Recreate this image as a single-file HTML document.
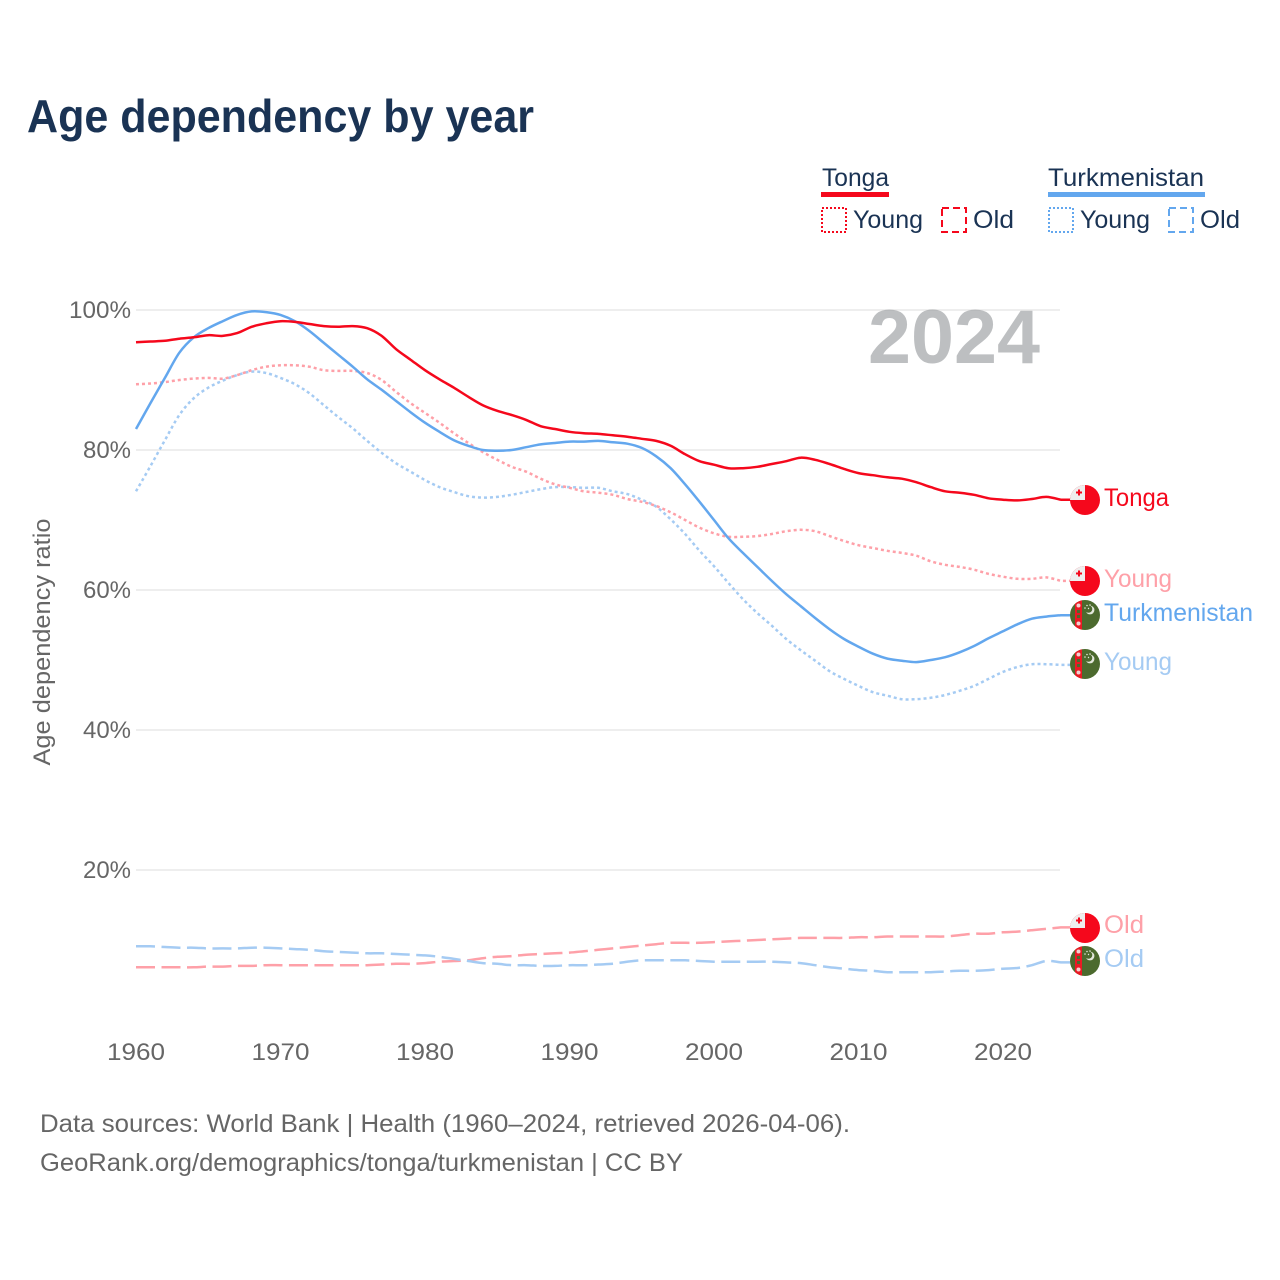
<!DOCTYPE html>
<html>
<head>
<meta charset="utf-8">
<title>Age dependency by year</title>
<style>
html,body{margin:0;padding:0;background:#fff;}
svg{display:block;}
text{font-family:"Liberation Sans",sans-serif;}
.tick{font-size:24px;fill:#666;}
.leg{font-size:25px;fill:#1a3354;}
.end{font-size:25px;}
.foot{font-size:25px;fill:#666;}
</style>
</head>
<body>
<svg id="chart" xmlns="http://www.w3.org/2000/svg" width="1280" height="1280" viewBox="0 0 1280 1280">
<defs>
<clipPath id="flag-clip"><circle cx="0" cy="0" r="15"/></clipPath>
<g id="flag-tonga" clip-path="url(#flag-clip)">
<rect x="-15" y="-15" width="30" height="30" fill="#f5081c"/>
<rect x="-15" y="-15" width="15" height="15" fill="#eeeeee"/>
<rect x="-9" y="-8.5" width="6" height="2" fill="#f5081c"/>
<rect x="-7" y="-10.5" width="2" height="6" fill="#f5081c"/>
</g>
<g id="flag-turkmenistan" clip-path="url(#flag-clip)">
<rect x="-15" y="-15" width="30" height="30" fill="#4c6a2e"/>
<rect x="-10" y="-15" width="7" height="30" fill="#ea1a24"/>
<circle cx="-6.5" cy="-9.5" r="2" fill="#f3d0d0"/>
<rect x="-8" y="-5" width="3" height="3" fill="#4c6a2e"/>
<rect x="-8" y="0" width="3" height="3" fill="#4c6a2e"/>
<circle cx="-6.5" cy="8.5" r="2" fill="#f3d0d0"/>
<circle cx="5" cy="-5" r="4.4" fill="#e4e8dc"/>
<circle cx="3.5" cy="-6" r="3.8" fill="#4c6a2e"/>
<circle cx="0" cy="-7" r="0.8" fill="#e4e8dc"/>
<circle cx="2" cy="-9.5" r="0.8" fill="#e4e8dc"/>
<circle cx="5" cy="-10" r="0.8" fill="#e4e8dc"/>
<circle cx="3.5" cy="-6.5" r="0.7" fill="#e4e8dc"/>
</g>
</defs>

<text x="27" y="132" font-size="46" font-weight="700" fill="#1a3354" textLength="507" lengthAdjust="spacingAndGlyphs">Age dependency by year</text>

<g>
<text class="leg" x="822" y="186" textLength="67" lengthAdjust="spacingAndGlyphs">Tonga</text>
<rect x="821" y="192" width="68" height="5" fill="#f5081c"/>
<rect x="822" y="208" width="24" height="24" fill="none" stroke="#f5081c" stroke-width="2" stroke-dasharray="2 2"/>
<text class="leg" x="853" y="228" textLength="70" lengthAdjust="spacingAndGlyphs">Young</text>
<rect x="942" y="208" width="24" height="24" fill="none" stroke="#f5081c" stroke-width="2" stroke-dasharray="7 4"/>
<text class="leg" x="973" y="228" textLength="41" lengthAdjust="spacingAndGlyphs">Old</text>
<text class="leg" x="1048" y="186" textLength="156" lengthAdjust="spacingAndGlyphs">Turkmenistan</text>
<rect x="1048" y="192" width="157" height="5" fill="#63a7ee"/>
<rect x="1049" y="208" width="24" height="24" fill="none" stroke="#63a7ee" stroke-width="2" stroke-dasharray="2 2"/>
<text class="leg" x="1080" y="228" textLength="70" lengthAdjust="spacingAndGlyphs">Young</text>
<rect x="1169" y="208" width="24" height="24" fill="none" stroke="#63a7ee" stroke-width="2" stroke-dasharray="7 4"/>
<text class="leg" x="1200" y="228" textLength="40" lengthAdjust="spacingAndGlyphs">Old</text>
</g>

<g id="grid"></g>
<g id="yticks"></g>
<g id="xticks"></g>

<text transform="translate(50,642) rotate(-90)" text-anchor="middle" font-size="24" fill="#666" textLength="247" lengthAdjust="spacingAndGlyphs">Age dependency ratio</text>

<text x="868" y="363" font-size="76" font-weight="700" fill="#999ca0" fill-opacity="0.65" textLength="172" lengthAdjust="spacingAndGlyphs">2024</text>

<g id="series"></g>

<g>
<use href="#flag-tonga" transform="translate(1085,500)"/>
<use href="#flag-tonga" transform="translate(1085,581)"/>
<use href="#flag-turkmenistan" transform="translate(1085,615)"/>
<use href="#flag-turkmenistan" transform="translate(1085,664)"/>
<use href="#flag-tonga" transform="translate(1085,928)"/>
<use href="#flag-turkmenistan" transform="translate(1085,961)"/>
<text class="end" x="1104" y="506" fill="#f5081c" textLength="65" lengthAdjust="spacingAndGlyphs">Tonga</text>
<text class="end" x="1104" y="587" fill="#fea0a8" textLength="68" lengthAdjust="spacingAndGlyphs">Young</text>
<text class="end" x="1104" y="621" fill="#63a7ee" textLength="149" lengthAdjust="spacingAndGlyphs">Turkmenistan</text>
<text class="end" x="1104" y="670" fill="#a5cbf3" textLength="68" lengthAdjust="spacingAndGlyphs">Young</text>
<text class="end" x="1104" y="933" fill="#fea0a8" textLength="40" lengthAdjust="spacingAndGlyphs">Old</text>
<text class="end" x="1104" y="967" fill="#a5cbf3" textLength="40" lengthAdjust="spacingAndGlyphs">Old</text>
</g>

<text class="foot" x="40" y="1132" textLength="810" lengthAdjust="spacingAndGlyphs">Data sources: World Bank | Health (1960–2024, retrieved 2026-04-06).</text>
<text class="foot" x="40" y="1171" textLength="643" lengthAdjust="spacingAndGlyphs">GeoRank.org/demographics/tonga/turkmenistan | CC BY</text>
</svg>

<script>
const startYear = 1960;
const yTickValues = [20, 40, 60, 80, 100];
const xTickValues = [1960, 1970, 1980, 1990, 2000, 2010, 2020];

const tongaTotal = [
95.4,95.5,95.6,95.9,96.1,96.4,96.3,96.7,97.6,98.1,
98.4,98.3,98.0,97.7,97.6,97.7,97.4,96.3,94.4,92.9,
91.4,90.1,88.9,87.6,86.4,85.6,85.0,84.3,83.4,83.0,
82.6,82.4,82.3,82.1,81.9,81.6,81.3,80.6,79.4,78.4,
77.9,77.4,77.4,77.6,78.0,78.4,78.9,78.6,78.0,77.3,
76.7,76.4,76.1,75.9,75.4,74.7,74.1,73.9,73.6,73.1,
72.9,72.8,73.0,73.3,72.9];
const tongaYoung = [
89.4,89.5,89.7,90.0,90.2,90.3,90.2,90.7,91.4,91.9,
92.1,92.1,91.9,91.4,91.3,91.3,91.0,90.0,88.3,86.7,
85.3,83.9,82.4,81.0,79.7,78.6,77.6,76.9,75.9,75.1,
74.6,74.1,73.9,73.6,73.0,72.6,72.0,71.1,70.0,68.9,
68.1,67.6,67.6,67.7,68.0,68.4,68.6,68.4,67.7,67.0,
66.4,66.0,65.6,65.3,64.9,64.1,63.6,63.3,62.9,62.3,
61.9,61.6,61.6,61.8,61.3];
const tongaOld = [
6.1,6.1,6.1,6.1,6.1,6.2,6.2,6.3,6.3,6.4,
6.4,6.4,6.4,6.4,6.4,6.4,6.4,6.5,6.6,6.6,
6.7,6.9,7.0,7.1,7.4,7.6,7.7,7.9,8.0,8.1,
8.2,8.4,8.6,8.8,9.0,9.2,9.4,9.6,9.6,9.6,
9.7,9.8,9.9,10.0,10.1,10.2,10.3,10.3,10.3,10.3,
10.4,10.4,10.5,10.5,10.5,10.5,10.5,10.7,10.9,10.9,
11.1,11.2,11.4,11.6,11.8];
const turkmenistanTotal = [
83.0,86.7,90.3,93.9,96.1,97.4,98.4,99.3,99.8,99.7,
99.3,98.4,97.0,95.3,93.6,91.9,90.1,88.6,87.0,85.4,
83.9,82.6,81.4,80.6,80.0,79.9,80.0,80.4,80.8,81.0,
81.2,81.2,81.3,81.1,80.9,80.3,79.1,77.4,75.1,72.6,
70.0,67.4,65.3,63.3,61.3,59.4,57.7,56.0,54.4,53.0,
51.9,50.9,50.2,49.9,49.7,50.0,50.4,51.1,52.0,53.1,
54.1,55.1,55.9,56.2,56.4];
const turkmenistanYoung = [
74.1,77.7,81.4,85.0,87.4,88.9,89.9,90.7,91.2,91.0,
90.3,89.4,88.1,86.4,84.7,83.1,81.3,79.6,78.1,76.9,
75.7,74.7,74.0,73.4,73.2,73.3,73.6,74.0,74.4,74.7,
74.7,74.6,74.6,74.1,73.7,72.9,71.9,70.1,68.0,65.6,
63.4,61.0,58.7,56.7,54.9,53.0,51.4,49.9,48.4,47.3,
46.3,45.4,44.9,44.4,44.4,44.6,45.0,45.6,46.3,47.3,
48.3,49.0,49.4,49.4,49.3];
const turkmenistanOld = [
9.1,9.1,9.0,8.9,8.9,8.8,8.8,8.8,8.9,8.9,
8.8,8.7,8.6,8.4,8.3,8.2,8.1,8.1,8.0,7.9,
7.8,7.6,7.3,7.0,6.7,6.6,6.4,6.4,6.3,6.3,
6.4,6.4,6.5,6.6,6.9,7.1,7.1,7.1,7.1,7.0,
6.9,6.9,6.9,6.9,6.9,6.8,6.7,6.4,6.1,5.9,
5.7,5.6,5.4,5.4,5.4,5.4,5.5,5.6,5.6,5.7,
5.9,6.0,6.4,7.0,6.8];

const NS = 'http://www.w3.org/2000/svg';
function xScale(year){ return 136 + (year - 1960) * 14.45; }
function yScale(pct){ return 1010 - pct * 7; }

function smoothPath(values){
  const pts = values.map(function(v, i){ return [xScale(startYear + i), yScale(v)]; });
  let d = 'M' + pts[0][0].toFixed(2) + ' ' + pts[0][1].toFixed(2);
  for (let i = 0; i < pts.length - 1; i++){
    const p0 = pts[Math.max(i - 1, 0)], p1 = pts[i], p2 = pts[i + 1], p3 = pts[Math.min(i + 2, pts.length - 1)];
    const c1x = p1[0] + (p2[0] - p0[0]) / 6, c1y = p1[1] + (p2[1] - p0[1]) / 6;
    const c2x = p2[0] - (p3[0] - p1[0]) / 6, c2y = p2[1] - (p3[1] - p1[1]) / 6;
    d += 'C' + c1x.toFixed(2) + ' ' + c1y.toFixed(2) + ' ' + c2x.toFixed(2) + ' ' + c2y.toFixed(2) + ' ' + p2[0].toFixed(2) + ' ' + p2[1].toFixed(2);
  }
  d += 'L' + (pts[pts.length - 1][0] + 14).toFixed(2) + ' ' + pts[pts.length - 1][1].toFixed(2);
  return d;
}

const gridGroup = document.getElementById('grid');
const yTickGroup = document.getElementById('yticks');
const xTickGroup = document.getElementById('xticks');
const seriesGroup = document.getElementById('series');

yTickValues.forEach(function(v){
  const line = document.createElementNS(NS, 'line');
  
  
  line.setAttribute('x1', 136);
  line.setAttribute('x2', 1060);
  line.setAttribute('y1', yScale(v));
  line.setAttribute('y2', yScale(v));
  line.setAttribute('stroke', '#eeeeee');
  line.setAttribute('stroke-width', 2);
  gridGroup.appendChild(line);

  const label = document.createElementNS(NS, 'text');
  
  
  label.setAttribute('class', 'tick');
  label.setAttribute('x', 131);
  label.setAttribute('y', yScale(v) + 8);
  label.setAttribute('text-anchor', 'end');
  label.setAttribute('textLength', v === 100 ? 62 : 48);
  label.setAttribute('lengthAdjust', 'spacingAndGlyphs');
  label.textContent = v + '%';
  yTickGroup.appendChild(label);
});

xTickValues.forEach(function(v){
  const label = document.createElementNS(NS, 'text');
  
  
  label.setAttribute('class', 'tick');
  label.setAttribute('x', xScale(v));
  label.setAttribute('y', 1060);
  label.setAttribute('text-anchor', 'middle');
  label.setAttribute('textLength', 58);
  label.setAttribute('lengthAdjust', 'spacingAndGlyphs');
  label.textContent = v;
  xTickGroup.appendChild(label);
});

function drawSeries(name, values, color, dash){
  const path = document.createElementNS(NS, 'path');
  
  
  path.setAttribute('d', smoothPath(values));
  path.setAttribute('fill', 'none');
  path.setAttribute('stroke', color);
  path.setAttribute('stroke-width', 2.5);
  path.setAttribute('stroke-linejoin', 'round');
  if (dash) path.setAttribute('stroke-dasharray', dash);
  seriesGroup.appendChild(path);
}

drawSeries('line-tonga-old', tongaOld, '#fea0a8', '19 6.5');
drawSeries('line-turkmenistan-old', turkmenistanOld, '#a5cbf3', '19 6.5');
drawSeries('line-turkmenistan-young', turkmenistanYoung, '#a5cbf3', '3 3');
drawSeries('line-tonga-young', tongaYoung, '#fea0a8', '3 3');
drawSeries('line-turkmenistan-total', turkmenistanTotal, '#63a7ee', null);
drawSeries('line-tonga-total', tongaTotal, '#f5081c', null);
</script>
</body>
</html>
